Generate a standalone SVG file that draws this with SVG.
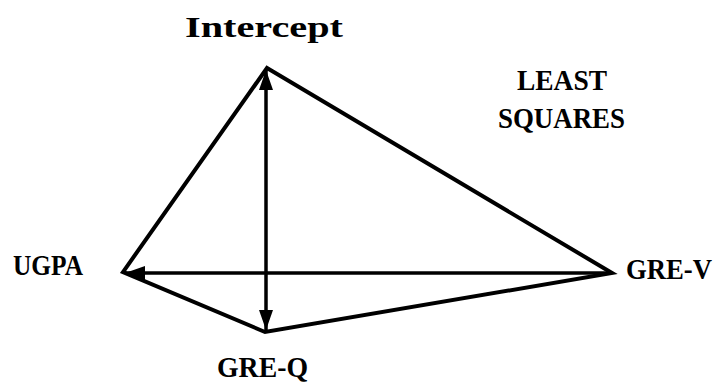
<svg xmlns="http://www.w3.org/2000/svg" width="723" height="382" viewBox="0 0 723 382">
<style>
.lbl{font-family:"Liberation Serif","DejaVu Serif",serif;font-weight:bold;font-size:30px;fill:#000}
.edge{fill:none;stroke:#000;stroke-width:4;stroke-linejoin:miter;stroke-miterlimit:20}
.axis{fill:none;stroke:#000;stroke-width:3.5}
</style>
<defs>
<marker id="arr" markerUnits="userSpaceOnUse" markerWidth="22" markerHeight="16" refX="20" refY="8" orient="auto-start-reverse">
<path d="M0,1 L20,8 L0,15 Z" fill="#000"/>
</marker>
</defs>
<rect width="723" height="382" fill="#fff"/>
<g id="connectors">
<path class="edge" d="M267,68 L612,273 L265,332 L123,272 Z"/>
<line class="axis" x1="612" y1="273" x2="125" y2="273" marker-end="url(#arr)"/>
<line class="axis" x1="266" y1="70" x2="266" y2="330" marker-start="url(#arr)" marker-end="url(#arr)"/>
</g>
<g id="intercept"><text class="lbl" x="185" y="37" textLength="158" lengthAdjust="spacingAndGlyphs">Intercept</text></g>
<g id="ugpa"><text class="lbl" x="13" y="275" textLength="70" lengthAdjust="spacingAndGlyphs">UGPA</text></g>
<g id="grev"><text class="lbl" x="626" y="279" textLength="86" lengthAdjust="spacingAndGlyphs">GRE-V</text></g>
<g id="greq"><text class="lbl" x="217" y="377" textLength="91" lengthAdjust="spacingAndGlyphs">GRE-Q</text></g>
<g id="least-squares">
<text class="lbl" x="517" y="90" textLength="90" lengthAdjust="spacingAndGlyphs">LEAST</text>
<text class="lbl" x="498" y="128" textLength="127" lengthAdjust="spacingAndGlyphs">SQUARES</text>
</g>
</svg>
